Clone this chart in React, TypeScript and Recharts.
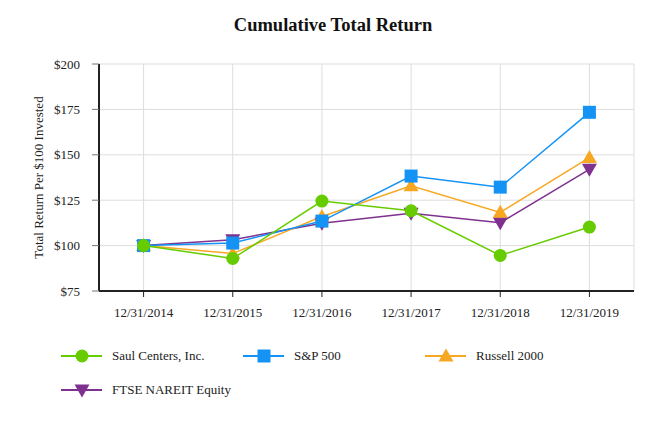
import React from "react";
import { LineChart, Line, XAxis, YAxis, CartesianGrid } from "recharts";

const years = ["12/31/2014", "12/31/2015", "12/31/2016", "12/31/2017", "12/31/2018", "12/31/2019"];
const saul = [100, 92.9, 124.5, 119.2, 94.6, 110.2];
const sp500 = [100, 101.4, 113.5, 138.3, 132.2, 173.4];
const russell = [100, 95.6, 116.0, 132.9, 118.3, 148.5];
const nareit = [100, 103.2, 112.3, 117.8, 112.6, 142.0];
const yTicks = [75, 100, 125, 150, 175, 200];

const data = years.map((y, i) => ({
  year: y,
  saul: saul[i],
  sp500: sp500[i],
  russell: russell[i],
  nareit: nareit[i],
}));

const C_SAUL = "#66CC00";
const C_SP = "#1593F5";
const C_RUS = "#F7A823";
const C_NAR = "#7E318E";

const FONT = "'Liberation Serif', 'Times New Roman', serif";

type Shape = "circle" | "square" | "up" | "down";

const Marker = ({ cx, cy, shape, color }: { cx: number; cy: number; shape: Shape; color: string }) => {
  if (cx == null || cy == null) return null;
  if (shape === "circle") return <circle cx={cx} cy={cy} r={6.5} fill={color} stroke="none" />;
  if (shape === "square") return <rect x={cx - 6.5} y={cy - 6.5} width={13} height={13} fill={color} stroke="none" />;
  if (shape === "up")
    return <polygon points={`${cx},${cy - 7.5} ${cx + 7.5},${cy + 5.5} ${cx - 7.5},${cy + 5.5}`} fill={color} />;
  return <polygon points={`${cx},${cy + 7.5} ${cx + 7.5},${cy - 5.5} ${cx - 7.5},${cy - 5.5}`} fill={color} />;
};

const dotFor = (shape: Shape, color: string) => (props: any) => (
  <Marker key={`${shape}-${props.index}`} cx={props.cx} cy={props.cy} shape={shape} color={color} />
);

const legendItems: { name: string; color: string; shape: Shape }[] = [
  { name: "Saul Centers, Inc.", color: C_SAUL, shape: "circle" },
  { name: "S&P 500", color: C_SP, shape: "square" },
  { name: "Russell 2000", color: C_RUS, shape: "up" },
  { name: "FTSE NAREIT Equity", color: C_NAR, shape: "down" },
];

const LegendBox = () => (
  <div style={{ position: "absolute", left: 0, top: 346, width: 666, height: 80 }}>
    {legendItems.map((it, i) => {
      const col = i % 3;
      const row = Math.floor(i / 3);
      return (
        <div
          key={it.name}
          style={{
            position: "absolute",
            left: 61 + col * 182,
            top: row * 34,
            display: "flex",
            alignItems: "center",
            height: 20,
          }}
        >
          <svg width={42} height={20}>
            <line x1={0} y1={10} x2={41} y2={10} stroke={it.color} strokeWidth={2} />
            <Marker cx={21} cy={10} shape={it.shape} color={it.color} />
          </svg>
          <span style={{ marginLeft: 9, fontFamily: FONT, fontSize: 13, color: "#222" }}>{it.name}</span>
        </div>
      );
    })}
  </div>
);

export default function App() {
  return (
    <div style={{ position: "absolute", left: 0, top: 0, width: 666, height: 426, background: "#fff" }}>
      <div
        style={{
          position: "absolute",
          top: 15,
          left: 0,
          width: 666,
          textAlign: "center",
          fontFamily: FONT,
          fontWeight: "bold",
          fontSize: 18.5,
          color: "#111",
        }}
      >
        Cumulative Total Return
      </div>
      <div style={{ position: "absolute", left: 0, top: 0 }}>
        <LineChart width={666} height={426} data={data} margin={{ top: 64, right: 32, left: 39, bottom: 105 }}>
          <CartesianGrid stroke="#dddddd" strokeWidth={1} />
          <XAxis
            dataKey="year"
            scale="band"
            axisLine={{ stroke: "#222", strokeWidth: 2 }}
            tickLine={{ stroke: "#222" }}
            tickSize={6}
            tick={{ fontFamily: FONT, fontSize: 13, fill: "#222" }}
            tickMargin={11}
            height={30}
          />
          <YAxis
            domain={[75, 200]}
            ticks={yTicks}
            tickFormatter={(v: number) => `$${v}`}
            axisLine={{ stroke: "#222", strokeWidth: 2 }}
            tickLine={{ stroke: "#777" }}
            tickSize={7}
            tick={{ fontFamily: FONT, fontSize: 13, fill: "#222" }}
            tickMargin={12}
            width={60}
            label={{
              value: "Total Return Per $100 Invested",
              angle: -90,
              position: "insideLeft",
              offset: 0,
              dx: -1,
              style: { fontFamily: FONT, fontSize: 13, fill: "#222", textAnchor: "middle" },
            }}
          />
          <Line dataKey="nareit" stroke={C_NAR} strokeWidth={1.5} dot={dotFor("down", C_NAR)} isAnimationActive={false} />
          <Line dataKey="russell" stroke={C_RUS} strokeWidth={1.5} dot={dotFor("up", C_RUS)} isAnimationActive={false} />
          <Line dataKey="sp500" stroke={C_SP} strokeWidth={1.5} dot={dotFor("square", C_SP)} isAnimationActive={false} />
          <Line dataKey="saul" stroke={C_SAUL} strokeWidth={1.5} dot={dotFor("circle", C_SAUL)} isAnimationActive={false} />
        </LineChart>
      </div>
      <LegendBox />
    </div>
  );
}
